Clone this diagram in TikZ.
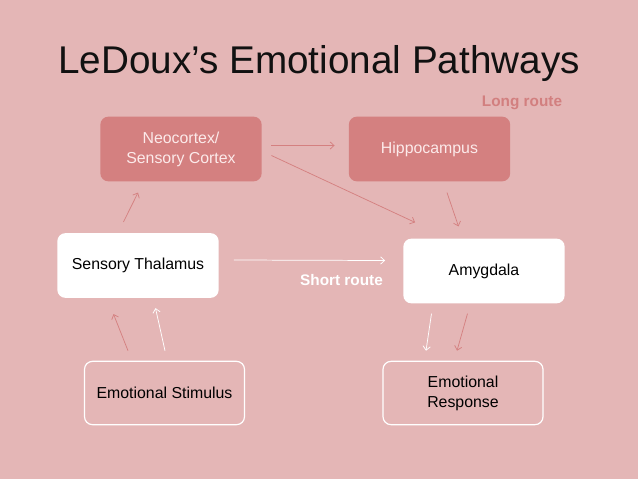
\documentclass[tikz,border=0pt]{standalone}
\usepackage{fontspec}
\setmainfont{Liberation Sans}
\usetikzlibrary{arrows.meta, positioning, calc}
\definecolor{SlideBG}{RGB}{228,182,182}
\definecolor{BoxDark}{RGB}{212,128,128}
\definecolor{RouteRed}{RGB}{210,127,127}
\definecolor{TextPale}{RGB}{252,234,234}
\definecolor{TitleInk}{RGB}{17,17,17}

\begin{document}
\begin{tikzpicture}[
  x=0.75pt, y=-0.75pt,
  every node/.style={font=\fontsize{11.9}{15}\selectfont},
  darkbox/.style={fill=BoxDark, text=TextPale, rounded corners=6pt,
                  minimum width=121pt, minimum height=48.5pt, align=center},
  whitebox/.style={fill=white, text=black, rounded corners=6pt,
                   minimum width=121pt, minimum height=48.5pt, align=center},
  openbox/.style={draw=white, line width=0.9pt, text=black, rounded corners=6pt,
                  minimum width=120pt, minimum height=47.5pt, align=center},
  arrow/.style={-{Straight Barb[length=3pt, width=5.5pt]}, line width=0.55pt, draw=BoxDark},
  warrow/.style={arrow, draw=white}
]
\fill[SlideBG] (0,0) rectangle (638,479);
\node[anchor=base, inner sep=0pt, text=TitleInk, font=\fontsize{29}{34}\selectfont]
  (title) at (319,73) {LeDoux’s Emotional Pathways};
\node[darkbox]  (neo)   at (181,149)   {Neocortex/\\Sensory Cortex};
\node[darkbox]  (hippo) at (429.5,149) {Hippocampus};
\node[whitebox] (thal)  at (138,265.5) {Sensory Thalamus};
\node[whitebox] (amyg)  at (484,271)   {Amygdala};
\node[openbox]  (stim)  at (164.5,393) {Emotional Stimulus};
\node[openbox]  (resp)  at (463,393)   {Emotional\\Response};
\node[text=RouteRed, font=\bfseries\fontsize{11.5}{14}\selectfont] (long) at (522,103) {Long route};
\node[text=white, font=\bfseries\fontsize{11.5}{14}\selectfont] (short) at (341.5,280) {Short route};
% long route
\draw[arrow] ($(neo.east)+(9.5,-3.5)$) -- ($(hippo.west)+(-14,-3.5)$);
\draw[arrow] ($(neo.east)+(9.5,6.5)$) -- ($(amyg.north west)+(12,-16)$);
\draw[arrow] ($(hippo.south)+(17.5,11)$) -- ($(amyg.north)+(-25.5,-12)$);
\draw[arrow] ($(thal.north)+(-14.5,-11)$) -- ($(neo.south)+(-43,11)$);
% short route
\draw[warrow] ($(thal.east)+(15,-5.5)$) -- ($(amyg.west)+(-18,-10.5)$);
% stimulus and response
\draw[arrow] ($(stim.north)+(-36.5,-10)$) -- ($(thal.south)+(-24.5,16)$);
\draw[warrow] ($(stim.north)+(0.5,-10)$) -- ($(thal.south)+(17.5,10)$);
\draw[warrow] ($(amyg.south)+(-52.5,10)$) -- ($(resp.north)+(-37,-10)$);
\draw[arrow] ($(amyg.south)+(-16.5,10)$) -- ($(resp.north)+(-6,-10)$);
\end{tikzpicture}
\end{document}
